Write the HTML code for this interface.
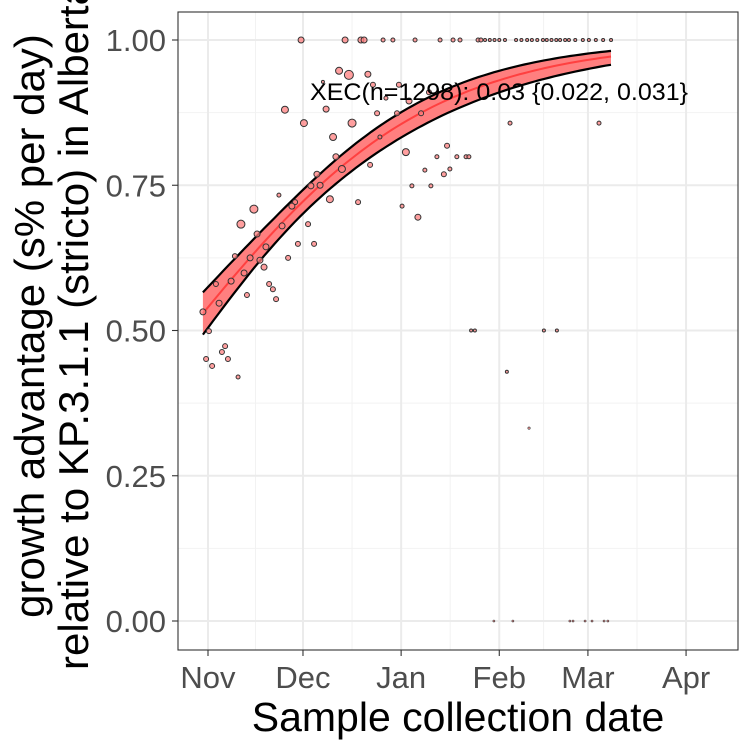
<!DOCTYPE html>
<html><head><meta charset="utf-8"><style>
body{margin:0;background:#fff}
svg{display:block;font-family:"Liberation Sans",sans-serif}
</style></head><body>
<svg id="chart" width="750" height="750" viewBox="0 0 750 750" xmlns="http://www.w3.org/2000/svg">
<rect x="0" y="0" width="750" height="750" fill="#fff"/>
<g id="grid"></g>
<g id="band"></g>
<g id="pts"></g>
<rect x="178" y="12" width="560" height="638" fill="none" stroke="#333" stroke-width="1.1"/>
<g id="axes"></g>
<text x="310" y="100" font-size="24.5" fill="#000" textLength="378" lengthAdjust="spacingAndGlyphs">XEC(n=1298): 0.03 {0.022, 0.031}</text>
<text x="458" y="731" font-size="41" text-anchor="middle" fill="#000">Sample collection date</text>
<g transform="translate(0,326) rotate(-90)">
<text x="0" y="44" font-size="42" text-anchor="middle" fill="#000">growth advantage (s% per day)</text>
<text x="0" y="88" font-size="42" text-anchor="middle" fill="#000">relative to KP.3.1.1 (stricto) in Alberta</text>
</g>
</svg>
<script>
const monthLabels=["Nov","Dec","Jan","Feb","Mar","Apr"];
const monthDays=[0,30,61,92,120,151];
const yTicks=[0,0.25,0.5,0.75,1.0];
const yTickLabels=["0.00","0.25","0.50","0.75","1.00"];
const fitIntercept=0.16, fitSlope=0.0265, fitStart=-1.6, fitEnd=127.3;
const ptDays=[29.4,43.3,48.3,49.3,55.3,58.4,65.4,73.3,77.4,79.6,85.3,86.2,87.5,89,90.5,92,93.8,97.3,99,100.8,102.3,104,105.8,107,108.5,110,111.2,112.8,114,116,118.4,120.3,122.5,124.8,127.3,
41.4,44.5,50.5,36.3,24.3,37.3,30.3,45.5,39.5,40.4,42.3,34.4,32.5,35.4,22.4,38.5,47.4,27.5,26.5,14.5,31.6,10.4,23.4,15.5,28.4,33.5,18.3,8.5,13.3,25.3,16.4,17.7,11.4,7.3,2.5,19.3,20.5,12.3,21.5,3.5,-1.6,0.3,5.4,4.4,-0.6,6.3,1.3,9.5,
52.1,56.2,60.3,63.5,53.4,59.7,51.2,54.3,62.5,68.5,64.4,70.4,61.3,66.3,72.3,69.8,67.3,75.5,78.6,81.5,82.4,76.4,74.5,95.4,123.5,
83.1,84.3,106.1,110.2,94.4,101.4,90.3,96.3,114.3,115.3,119.1,121.3,125.1,126.3];
const ptValues=[1,1,1,1,1,1,1,1,1,1,1,1,1,1,1,1,1,1,1,1,1,1,1,1,1,1,1,1,1,1,1,1,1,1,1,
.947,.94,.941,.928,.88,.881,.857,.857,.833,.799,.778,.769,.749,.75,.733,.726,.721,.721,.714,.709,.683,.683,.68,.666,.649,.649,.644,.628,.625,.625,.621,.609,.599,.585,.58,.58,.571,.561,.554,.547,.532,.499,.473,.463,.451,.451,.439,.42,
.923,.90,.923,.895,.874,.874,.785,.833,.807,.776,.749,.749,.714,.695,.799,.91,.874,.818,.799,.799,.799,.778,.769,.857,.857,
.5,.5,.5,.5,.429,.332,0,0,0,0,0,0,0,0];
const ptSizes=[3,3,3,3,2,2,2,2,2,2,2,2,1.5,1.5,1.5,1.5,1.5,1.5,1.5,1.5,1.5,1.5,1.5,1.5,1.5,1.5,1.5,1.5,1.5,1.5,1.5,1.5,1.5,1.5,1.5,
3.5,4.5,3,1.5,3.5,3,3.5,4,3.5,3,3.5,3,3,3,2,3.5,2.5,2.5,3,4,2.5,4,3,3,2.5,2.5,3,2.5,3,2.5,3,3,3,3,2.5,2.5,2.5,2.5,2.5,3,3,2.5,2.5,2.5,2.5,2.5,2.5,2,
2.5,2,2.5,3,2.5,2.5,2.5,2,3.5,2,2,2,2,3,2,2.5,2.5,2.5,2,2,2,2,2.5,2,2,
1.5,1.5,1.5,1.5,1.5,1.2,1,1,1,1,1,1,1,1];
const NS="http://www.w3.org/2000/svg";
function X(d){return 208+d*3.166;}
function Y(v){return 621-v*581;}
function mk(tag,attrs,parent){const e=document.createElementNS(NS,tag);for(const k in attrs)e.setAttribute(k,attrs[k]);parent.appendChild(e);return e;}
const grid=document.getElementById('grid'),axes=document.getElementById('axes');
const bg=mk('rect',{x:178,y:12,width:560,height:638,fill:'#fff'},grid);


for(let i=0;i<yTicks.length-1;i++){const v=(yTicks[i]+yTicks[i+1])/2;
 const l=mk('line',{x1:178,x2:738,y1:Y(v),y2:Y(v),stroke:'#f2f2f2','stroke-width':1},grid);
 
 }
for(let i=0;i<monthDays.length-1;i++){const d=(monthDays[i]+monthDays[i+1])/2;
 const l=mk('line',{x1:X(d),x2:X(d),y1:12,y2:650,stroke:'#f2f2f2','stroke-width':1},grid);
 
 }
yTicks.forEach((v,i)=>{
 const l=mk('line',{x1:178,x2:738,y1:Y(v),y2:Y(v),stroke:'#ebebeb','stroke-width':2},grid);
 
 
 const t=mk('line',{x1:172,x2:178,y1:Y(v),y2:Y(v),stroke:'#333','stroke-width':1.1},axes);
 
 
 const tx=mk('text',{x:166,y:Y(v)+11,'font-size':31,'text-anchor':'end',fill:'#4d4d4d'},axes);
 tx.textContent=yTickLabels[i];
 
 
});
monthDays.forEach((d,i)=>{
 const l=mk('line',{x1:X(d),x2:X(d),y1:12,y2:650,stroke:'#ebebeb','stroke-width':2},grid);
 
 
 const t=mk('line',{x1:X(d),x2:X(d),y1:650,y2:656,stroke:'#333','stroke-width':1.1},axes);
 
 
 const tx=mk('text',{x:X(d),y:688,'font-size':31,'text-anchor':'middle',fill:'#4d4d4d'},axes);
 tx.textContent=monthLabels[i];
 
 
});
function logistic(z){return 1/(1+Math.exp(-z));}
const band=document.getElementById('band');
let up=[],lo=[],mid=[];
for(let d=fitStart;d<=fitEnd+0.01;d+=(fitEnd-fitStart)/80){
 const z=fitIntercept+fitSlope*d, hw=Math.sqrt(0.01+1.6e-5*(d-25)*(d-25));
 up.push([X(d),Y(logistic(z+hw))]);lo.push([X(d),Y(logistic(z-hw))]);mid.push([X(d),Y(logistic(z))]);
}
const pstr=a=>a.map(p=>p[0].toFixed(1)+','+p[1].toFixed(1)).join(' ');
const poly=mk('polygon',{points:pstr(up)+' '+pstr(lo.slice().reverse()),fill:'#ff7f7f',stroke:'none'},band);


const ml=mk('polyline',{points:pstr(mid),fill:'none',stroke:'#ff4040','stroke-width':2},band);


const ul=mk('polyline',{points:pstr(up),fill:'none',stroke:'#000','stroke-width':2.2},band);


const ll=mk('polyline',{points:pstr(lo),fill:'none',stroke:'#000','stroke-width':2.2},band);


const pts=document.getElementById('pts');
ptDays.forEach((d,i)=>{
 const c=mk('circle',{cx:X(d),cy:Y(ptValues[i]),r:ptSizes[i],fill:'rgba(255,127,127,0.75)',stroke:'#333','stroke-width':ptSizes[i]<1.3?0.6:1},pts);
 
 
});
</script>
</body></html>
